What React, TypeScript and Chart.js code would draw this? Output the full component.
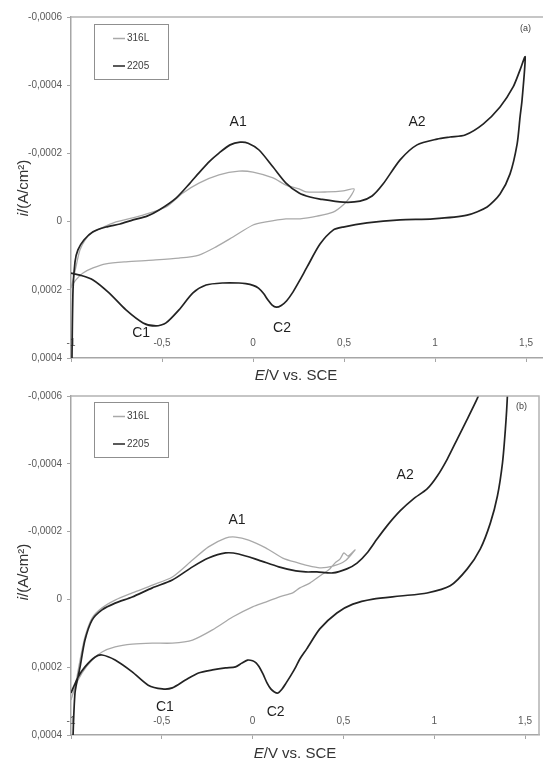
import React, { useEffect, useRef } from 'react';
import { Chart, registerables } from 'chart.js';

Chart.register(...registerables);

const FONT = '"Liberation Sans", Arial, sans-serif';

const SERIES_NAMES = ['316L', '2205'];
const SERIES_COLORS = ['#a9a9a9', '#232323'];
const SERIES_WIDTHS = [1.3, 1.7];

const X_TICKS = [-1, -0.5, 0, 0.5, 1, 1.5];
const X_TICK_LABELS = ['-1', '-0,5', '0', '0,5', '1', '1,5'];
const Y_TICKS = [-0.0006, -0.0004, -0.0002, 0, 0.0002, 0.0004];
const Y_TICK_LABELS = ['-0,0006', '-0,0004', '-0,0002', '0', '0,0002', '0,0004'];

const PEAK_NAMES = ['A1', 'A2', 'C1', 'C2'];

// ---------- Panel (a) : E (V vs SCE), i (A/cm2), in scan order ----------
const A_316L_E = [
  -1.0, -0.984, -0.967, -0.951, -0.923, -0.885, -0.846, -0.753, -0.604, -0.478, -0.385,
  -0.297, -0.187, -0.077, 0.0, 0.11, 0.181, 0.253, 0.291, 0.407, 0.495, 0.555,
  0.533, 0.495, 0.44, 0.352, 0.258, 0.181, 0.071, 0.0, -0.11, -0.203, -0.297, -0.407,
  -0.549, -0.698, -0.808, -0.879, -0.934, -0.973, -1.0,
];
const A_316L_I = [
  1.95e-4, 1.6e-4, 1.18e-4, 0.83e-4, 0.54e-4, 0.33e-4, 0.22e-4, 0.01e-4, -0.19e-4, -0.43e-4, -0.84e-4,
  -1.13e-4, -1.37e-4, -1.48e-4, -1.45e-4, -1.28e-4, -1.07e-4, -0.96e-4, -0.87e-4, -0.87e-4, -0.9e-4, -0.96e-4,
  -0.72e-4, -0.49e-4, -0.28e-4, -0.16e-4, -0.08e-4, -0.08e-4, 0.01e-4, 0.1e-4, 0.45e-4, 0.74e-4, 0.98e-4, 1.07e-4,
  1.13e-4, 1.18e-4, 1.24e-4, 1.36e-4, 1.51e-4, 1.71e-4, 1.92e-4,
];
const A_2205_E = [
  -0.996, -0.989, -0.978, -0.962, -0.929, -0.879, -0.808, -0.731, -0.659, -0.582, -0.516, -0.423, -0.346,
  -0.297, -0.236, -0.187, -0.126, -0.071, -0.027, 0.033, 0.11, 0.181, 0.253, 0.313, 0.368, 0.495, 0.588,
  0.654, 0.714, 0.808, 0.901, 1.011, 1.082, 1.165, 1.264, 1.357, 1.429, 1.467, 1.495,
  1.478, 1.467, 1.451, 1.412, 1.357, 1.286, 1.176, 0.989, 0.808, 0.626, 0.495, 0.44, 0.368, 0.297, 0.258,
  0.22, 0.185, 0.155, 0.128, 0.105, 0.082, 0.058, 0.03, 0.0, -0.04, -0.077, -0.165, -0.258, -0.33, -0.407,
  -0.478, -0.533, -0.604, -0.698, -0.791, -0.879, -0.951, -1.0,
];
const A_2205_I = [
  4.6e-4, 2.01e-4, 1.18e-4, 0.83e-4, 0.54e-4, 0.3e-4, 0.16e-4, 0.07e-4, -0.05e-4, -0.16e-4, -0.34e-4, -0.69e-4, -1.13e-4,
  -1.43e-4, -1.78e-4, -2.01e-4, -2.25e-4, -2.33e-4, -2.3e-4, -2.1e-4, -1.6e-4, -1.13e-4, -0.84e-4, -0.72e-4, -0.66e-4, -0.57e-4, -0.6e-4,
  -0.75e-4, -1.1e-4, -1.81e-4, -2.25e-4, -2.42e-4, -2.48e-4, -2.54e-4, -2.86e-4, -3.36e-4, -3.95e-4, -4.45e-4, -4.83e-4,
  -3.57e-4, -3.07e-4, -2.28e-4, -1.4e-4, -0.81e-4, -0.43e-4, -0.19e-4, -0.08e-4, -0.05e-4, 0.04e-4, 0.16e-4, 0.25e-4, 0.66e-4, 1.33e-4, 1.71e-4,
  2.06e-4, 2.32e-4, 2.46e-4, 2.51e-4, 2.45e-4, 2.3e-4, 2.11e-4, 1.95e-4, 1.87e-4, 1.82e-4, 1.8e-4, 1.8e-4, 1.86e-4, 2.09e-4, 2.59e-4,
  2.97e-4, 3.06e-4, 2.97e-4, 2.59e-4, 2.09e-4, 1.71e-4, 1.57e-4, 1.51e-4,
];
const A_PEAK_E = [-0.082, 0.901, -0.615, 0.159];
const A_PEAK_I = [-2.92e-4, -2.92e-4, 3.27e-4, 3.11e-4];

// ---------- Panel (b) ----------
const B_316L_E = [
  -1.0, -0.978, -0.95, -0.923, -0.884, -0.829, -0.757, -0.663, -0.552, -0.442, -0.331, -0.243,
  -0.149, -0.094, -0.022, 0.072, 0.166, 0.254, 0.293, 0.37, 0.442, 0.508, 0.564,
  0.525, 0.503, 0.481, 0.453, 0.425, 0.37, 0.315, 0.26, 0.221, 0.144, 0.072, 0.0, -0.11, -0.221,
  -0.331, -0.442, -0.552, -0.663, -0.757, -0.829, -0.884, -0.939, -0.978, -1.0,
];
const B_316L_I = [
  2.97e-4, 2.58e-4, 1.79e-4, 1.11e-4, 0.55e-4, 0.25e-4, 0.02e-4, -0.19e-4, -0.42e-4, -0.66e-4, -1.16e-4, -1.55e-4,
  -1.81e-4, -1.84e-4, -1.75e-4, -1.52e-4, -1.22e-4, -1.07e-4, -1.01e-4, -0.93e-4, -0.98e-4, -1.13e-4, -1.46e-4,
  -1.28e-4, -1.37e-4, -1.19e-4, -1.07e-4, -0.9e-4, -0.69e-4, -0.48e-4, -0.34e-4, -0.19e-4, -0.07e-4, 0.08e-4, 0.22e-4, 0.52e-4, 0.9e-4,
  1.2e-4, 1.29e-4, 1.29e-4, 1.32e-4, 1.4e-4, 1.55e-4, 1.79e-4, 2.17e-4, 2.58e-4, 2.97e-4,
];
const B_2205_E = [
  -0.993, -0.978, -0.95, -0.923, -0.884, -0.829, -0.757, -0.663, -0.552, -0.442, -0.331, -0.243, -0.149,
  -0.077, 0.033, 0.144, 0.238, 0.293, 0.354, 0.442, 0.519, 0.575, 0.63, 0.685, 0.74, 0.812, 0.884, 0.961,
  1.017, 1.072, 1.127, 1.182, 1.238, 1.293, 1.36, 1.42,
  1.41, 1.403, 1.392, 1.376, 1.348, 1.309, 1.254, 1.182, 1.088, 0.961, 0.812, 0.663, 0.552, 0.464, 0.37,
  0.298, 0.26, 0.238, 0.21, 0.184, 0.16, 0.14, 0.12, 0.1, 0.08, 0.057, 0.035, 0.019, 0.0, -0.028, -0.06,
  -0.094, -0.149, -0.221, -0.298, -0.37, -0.442, -0.497, -0.575, -0.663, -0.757, -0.829, -0.867, -0.923,
  -0.961, -1.0,
];
const B_2205_I = [
  4.7e-4, 2.76e-4, 1.99e-4, 1.2e-4, 0.61e-4, 0.31e-4, 0.11e-4, -0.07e-4, -0.34e-4, -0.57e-4, -0.96e-4, -1.22e-4, -1.37e-4,
  -1.34e-4, -1.16e-4, -0.96e-4, -0.84e-4, -0.81e-4, -0.81e-4, -0.78e-4, -0.9e-4, -1.07e-4, -1.37e-4, -1.78e-4, -2.17e-4, -2.61e-4, -2.96e-4, -3.26e-4,
  -3.64e-4, -4.14e-4, -4.73e-4, -5.32e-4, -5.94e-4, -6.62e-4, -7.5e-4, -8.4e-4,
  -7.2e-4, -6.0e-4, -5.03e-4, -4.03e-4, -3.05e-4, -2.25e-4, -1.49e-4, -0.9e-4, -0.4e-4, -0.19e-4, -0.1e-4, -0.01e-4, 0.14e-4, 0.4e-4, 0.87e-4,
  1.46e-4, 1.76e-4, 1.99e-4, 2.25e-4, 2.47e-4, 2.66e-4, 2.76e-4, 2.73e-4, 2.64e-4, 2.47e-4, 2.2e-4, 1.98e-4, 1.87e-4, 1.81e-4, 1.79e-4, 1.88e-4,
  1.99e-4, 2.02e-4, 2.08e-4, 2.17e-4, 2.38e-4, 2.61e-4, 2.64e-4, 2.53e-4, 2.14e-4, 1.79e-4, 1.64e-4, 1.7e-4, 1.99e-4,
  2.29e-4, 2.76e-4,
];
const B_PEAK_E = [-0.086, 0.84, -0.483, 0.127];
const B_PEAK_I = [-2.34e-4, -3.67e-4, 3.17e-4, 3.34e-4];

type Area = { left: number; top: number; right: number; bottom: number };
type PanelCfg = {
  tag: string;
  top: number;
  height: number;
  area: Area;
  xMax: number;
  rightBorder: boolean;
  legendTop: number;
  xLabelY: number;
  xTitle: { x: number; y: number };
  yTitle: { x: number; y: number };
  tagPos: { x: number; y: number };
  series: { e: number[]; i: number[] }[];
  peaks: { e: number[]; i: number[] };
};

const PANELS: PanelCfg[] = [
  {
    tag: '(a)',
    top: 0,
    height: 385,
    area: { left: 71, top: 17, right: 543, bottom: 358 },
    xMax: 1.593,
    rightBorder: false,
    legendTop: 24.5,
    xLabelY: 343,
    xTitle: { x: 296, y: 380 },
    yTitle: { x: 28, y: 188 },
    tagPos: { x: 525.5, y: 29 },
    series: [
      { e: A_316L_E, i: A_316L_I },
      { e: A_2205_E, i: A_2205_I },
    ],
    peaks: { e: A_PEAK_E, i: A_PEAK_I },
  },
  {
    tag: '(b)',
    top: 380,
    height: 380,
    area: { left: 71, top: 16, right: 539, bottom: 355 },
    xMax: 1.577,
    rightBorder: true,
    legendTop: 22.5,
    xLabelY: 341,
    xTitle: { x: 295, y: 378 },
    yTitle: { x: 28, y: 192 },
    tagPos: { x: 521.5, y: 27 },
    series: [
      { e: B_316L_E, i: B_316L_I },
      { e: B_2205_E, i: B_2205_I },
    ],
    peaks: { e: B_PEAK_E, i: B_PEAK_I },
  },
];

const AXIS_COLOR = '#a6a6a6';
const LABEL_COLOR = '#595959';

function drawParts(ctx: CanvasRenderingContext2D, parts: { t: string; italic: boolean }[], size: number) {
  const fonts = parts.map((p) => `${p.italic ? 'italic ' : ''}${size}px ${FONT}`);
  const widths = parts.map((p, k) => {
    ctx.font = fonts[k];
    return ctx.measureText(p.t).width;
  });
  const total = widths.reduce((s, w) => s + w, 0);
  let x = -total / 2;
  parts.forEach((p, k) => {
    ctx.font = fonts[k];
    ctx.fillText(p.t, x, 0);
    x += widths[k];
  });
}

function Panel({ cfg }: { cfg: PanelCfg }) {
  const ref = useRef<HTMLCanvasElement | null>(null);

  useEffect(() => {
    const canvas = ref.current;
    if (!canvas) return;

    const overlay = {
      id: 'overlay' + cfg.tag,
      beforeDatasetsDraw(chart: any) {
        const { ctx, scales } = chart;
        const x = scales.x;
        ctx.save();
        ctx.font = `10px ${FONT}`;
        ctx.fillStyle = LABEL_COLOR;
        ctx.textAlign = 'center';
        ctx.textBaseline = 'middle';
        X_TICKS.forEach((v, k) => ctx.fillText(X_TICK_LABELS[k], x.getPixelForValue(v), cfg.xLabelY));
        ctx.restore();
      },
      afterDraw(chart: any) {
        const { ctx, chartArea: a, scales } = chart;
        const x = scales.x;
        const y = scales.y;
        ctx.save();
        // plot-area border
        ctx.strokeStyle = '#b3b3b3';
        ctx.lineWidth = 1.5;
        ctx.beginPath();
        ctx.moveTo(a.left, a.top);
        ctx.lineTo(a.right, a.top);
        if (cfg.rightBorder) ctx.lineTo(a.right, a.bottom);
        ctx.stroke();

        // legend
        const lt = cfg.legendTop;
        ctx.strokeStyle = '#8f8f8f';
        ctx.lineWidth = 1;
        ctx.strokeRect(a.left + 23.5, lt, 74, 55);
        const rows = [lt + 14, lt + 41.5];
        SERIES_NAMES.forEach((name, k) => {
          ctx.strokeStyle = SERIES_COLORS[k];
          ctx.lineWidth = 1.5;
          ctx.beginPath();
          ctx.moveTo(a.left + 42, rows[k]);
          ctx.lineTo(a.left + 54, rows[k]);
          ctx.stroke();
          ctx.fillStyle = '#404040';
          ctx.font = `10px ${FONT}`;
          ctx.textAlign = 'left';
          ctx.textBaseline = 'middle';
          ctx.fillText(name, a.left + 56, rows[k]);
        });

        // peak labels
        ctx.fillStyle = '#1f1f1f';
        ctx.font = `14px ${FONT}`;
        ctx.textAlign = 'center';
        ctx.textBaseline = 'middle';
        PEAK_NAMES.forEach((n, k) => {
          ctx.fillText(n, x.getPixelForValue(cfg.peaks.e[k]), y.getPixelForValue(cfg.peaks.i[k]));
        });

        // panel tag
        ctx.fillStyle = '#404040';
        ctx.font = `9px ${FONT}`;
        ctx.fillText(cfg.tag, cfg.tagPos.x, cfg.tagPos.y);

        // axis titles
        ctx.fillStyle = '#333333';
        ctx.textAlign = 'left';
        ctx.textBaseline = 'alphabetic';
        ctx.save();
        ctx.translate(cfg.xTitle.x, cfg.xTitle.y);
        drawParts(ctx, [{ t: 'E', italic: true }, { t: '/V vs. SCE', italic: false }], 15);
        ctx.restore();
        ctx.save();
        ctx.translate(cfg.yTitle.x, cfg.yTitle.y);
        ctx.rotate(-Math.PI / 2);
        drawParts(ctx, [{ t: 'i', italic: true }, { t: '/(A/cm²)', italic: false }], 15);
        ctx.restore();
        ctx.restore();
      },
    };

    const datasets = cfg.series.map((s, k) => ({
      label: SERIES_NAMES[k],
      data: s.e.map((e, j) => ({ x: e, y: s.i[j] })),
      showLine: true,
      borderColor: SERIES_COLORS[k],
      backgroundColor: SERIES_COLORS[k],
      borderWidth: SERIES_WIDTHS[k],
      pointRadius: 0,
      tension: 0.25,
      fill: false,
      order: k === 1 ? 0 : 1,
    }));

    const chart = new Chart(canvas, {
      type: 'scatter',
      data: { datasets },
      options: {
        responsive: false,
        animation: false,
        devicePixelRatio: 1,
        events: [],
        layout: {
          padding: { left: 0, top: cfg.area.top, right: 543 - cfg.area.right, bottom: 0 },
        },
        plugins: { legend: { display: false }, tooltip: { enabled: false }, title: { display: false } },
        scales: {
          x: {
            type: 'linear',
            min: -1,
            max: cfg.xMax,
            afterBuildTicks: (s: any) => {
              s.ticks = X_TICKS.map((v) => ({ value: v }));
            },
            afterFit: (s: any) => {
              s.height = cfg.height - cfg.area.bottom;
            },
            ticks: { display: false },
            grid: { drawOnChartArea: false, drawTicks: true, tickLength: 4, color: AXIS_COLOR },
            border: { display: true, color: AXIS_COLOR, width: 1.5 },
          },
          y: {
            type: 'linear',
            reverse: true,
            min: Y_TICKS[0],
            max: Y_TICKS[Y_TICKS.length - 1],
            afterBuildTicks: (s: any) => {
              s.ticks = Y_TICKS.map((v) => ({ value: v }));
            },
            afterFit: (s: any) => {
              s.width = cfg.area.left;
            },
            ticks: {
              callback: (_v: any, idx: number) => Y_TICK_LABELS[idx],
              font: { family: FONT, size: 10 },
              color: LABEL_COLOR,
              padding: 5,
            },
            grid: { drawOnChartArea: false, drawTicks: true, tickLength: 4, color: AXIS_COLOR },
            border: { display: true, color: AXIS_COLOR, width: 1.5 },
          },
        },
      } as any,
      plugins: [overlay],
    });
    return () => chart.destroy();
  }, [cfg]);

  return (
    <canvas
      ref={ref}
      width={543}
      height={cfg.height}
      style={{ position: 'absolute', left: 0, top: cfg.top, width: 543, height: cfg.height }}
    />
  );
}

export default function App() {
  return (
    <div style={{ position: 'absolute', left: 0, top: 0, width: 543, height: 760, background: '#ffffff' }}>
      {PANELS.map((p) => (
        <Panel key={p.tag} cfg={p} />
      ))}
    </div>
  );
}
